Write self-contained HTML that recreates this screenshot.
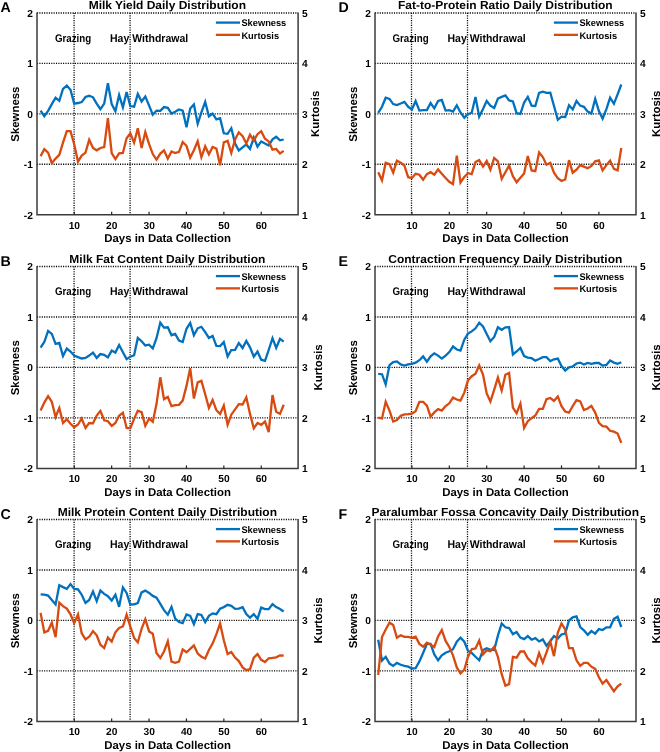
<!DOCTYPE html>
<html><head><meta charset="utf-8"><title>Figure</title>
<style>
html,body{margin:0;padding:0;background:#fff;}
body{width:660px;height:752px;overflow:hidden;position:relative;font-family:"Liberation Sans",sans-serif;}
svg{position:absolute;left:0;top:0;}
text{font-family:"Liberation Sans",sans-serif;font-weight:bold;fill:#000;text-rendering:geometricPrecision;}
svg{will-change:transform;opacity:0.999;}
.t{font-size:11.6px;text-anchor:middle;}
.l{font-size:14.2px;}
.tk{font-size:10.2px;}
.ax{font-size:11.4px;text-anchor:middle;}
.an{font-size:11.2px;}
.lg{font-size:9.5px;}
.g{stroke:#000;stroke-width:1.3;stroke-dasharray:1.1 1.27;fill:none;}
.a{stroke:#3c3c3c;stroke-width:1.5;fill:none;}
.k{stroke:#222;stroke-width:1.2;fill:none;}
.b{stroke:#0071BE;stroke-width:2.3;fill:none;stroke-linejoin:miter;stroke-miterlimit:4;}
.o{stroke:#D74A10;stroke-width:2.3;fill:none;stroke-linejoin:miter;stroke-miterlimit:4;}
</style></head><body>
<svg width="660" height="752" viewBox="0 0 660 752">

<g id="panelA">
<line class="g" x1="37.00" y1="13.00" x2="298.10" y2="13.00"/>
<line class="g" x1="37.00" y1="63.42" x2="298.10" y2="63.42"/>
<line class="g" x1="37.00" y1="113.85" x2="298.10" y2="113.85"/>
<line class="g" x1="37.00" y1="164.27" x2="298.10" y2="164.27"/>
<line class="g" x1="74.10" y1="13.00" x2="74.10" y2="214.70"/>
<line class="g" x1="130.10" y1="13.00" x2="130.10" y2="214.70"/>
<polyline class="b" points="40.6,110.6 44.3,116.2 48.1,110.9 51.8,104.1 55.6,97.7 59.3,100.8 63.0,88.9 66.8,85.6 70.5,89.7 74.2,103.6 78.0,103.0 81.7,102.1 85.5,97.0 89.2,95.8 93.0,97.3 96.7,103.6 100.4,109.1 104.2,103.6 107.9,83.3 111.7,104.1 115.4,111.2 119.1,95.0 122.9,107.3 126.6,92.0 130.3,106.1 134.1,106.7 137.8,93.9 141.6,101.5 145.3,96.5 149.1,105.6 152.8,114.7 156.5,110.6 160.3,110.9 164.0,107.1 167.8,107.9 171.5,113.6 175.2,111.7 179.0,109.4 182.7,110.6 186.5,127.3 190.2,108.6 193.9,104.5 197.7,123.8 201.4,112.4 205.2,101.9 208.9,116.3 212.6,113.6 216.4,119.3 220.1,118.2 223.8,133.3 227.6,133.8 231.3,128.2 235.1,143.6 238.8,150.5 242.6,147.4 246.3,144.4 250.0,148.9 253.8,137.6 257.5,146.7 261.2,141.4 265.0,143.6 268.7,145.5 272.5,139.4 276.2,136.8 280.0,140.3 283.7,139.5"/>
<polyline class="o" points="40.6,156.1 44.3,149.1 48.1,152.6 51.8,163.2 55.6,158.6 59.3,154.8 63.0,142.7 66.8,131.1 70.5,131.1 74.2,144.2 78.0,161.7 81.7,155.6 85.5,152.6 89.2,139.7 93.0,148.0 96.7,150.3 100.4,148.0 104.2,147.0 107.9,118.2 111.7,153.0 115.4,159.1 119.1,153.3 122.9,153.0 126.6,138.2 130.3,133.4 134.1,142.7 137.8,128.3 141.6,148.0 145.3,132.1 149.1,144.2 152.8,154.1 156.5,159.7 160.3,153.6 164.0,150.3 167.8,158.6 171.5,151.5 175.2,153.0 179.0,151.8 182.7,142.0 186.5,145.8 190.2,157.6 193.9,150.3 197.7,141.2 201.4,157.2 205.2,146.4 208.9,154.3 212.6,147.0 216.4,148.6 220.1,165.2 223.8,142.4 227.6,140.9 231.3,153.0 235.1,139.4 238.8,132.3 242.6,136.1 246.3,143.6 250.0,134.8 253.8,140.6 257.5,134.2 261.2,131.2 265.0,138.8 268.7,141.4 272.5,149.7 276.2,148.9 280.0,153.5 283.7,150.9"/>
<path class="a" d="M37.00,12.50 V214.70 H298.10 V12.50"/>
<line class="k" x1="74.25" y1="214.70" x2="74.25" y2="211.70"/>
<text class="tk" text-anchor="middle" x="74.35" y="228.50">10</text>
<line class="k" x1="111.65" y1="214.70" x2="111.65" y2="211.70"/>
<text class="tk" text-anchor="middle" x="111.75" y="228.50">20</text>
<line class="k" x1="149.05" y1="214.70" x2="149.05" y2="211.70"/>
<text class="tk" text-anchor="middle" x="149.15" y="228.50">30</text>
<line class="k" x1="186.45" y1="214.70" x2="186.45" y2="211.70"/>
<text class="tk" text-anchor="middle" x="186.55" y="228.50">40</text>
<line class="k" x1="223.85" y1="214.70" x2="223.85" y2="211.70"/>
<text class="tk" text-anchor="middle" x="223.95" y="228.50">50</text>
<line class="k" x1="261.25" y1="214.70" x2="261.25" y2="211.70"/>
<text class="tk" text-anchor="middle" x="261.35" y="228.50">60</text>
<text class="tk" text-anchor="end" x="32.80" y="16.80">2</text>
<text class="tk" x="302.00" y="16.80">5</text>
<text class="tk" text-anchor="end" x="32.80" y="67.22">1</text>
<text class="tk" x="302.00" y="67.22">4</text>
<text class="tk" text-anchor="end" x="32.80" y="117.65">0</text>
<text class="tk" x="302.00" y="117.65">3</text>
<text class="tk" text-anchor="end" x="32.80" y="168.07">-1</text>
<text class="tk" x="302.00" y="168.07">2</text>
<text class="tk" text-anchor="end" x="32.80" y="218.50">-2</text>
<text class="tk" x="302.00" y="218.50">1</text>
<text class="ax" x="167.55" y="242.10">Days in Data Collection</text>
<text class="t" x="167.35" y="9.00" textLength="157.4" lengthAdjust="spacingAndGlyphs">Milk Yield Daily Distribution</text>
<text class="ax" transform="translate(19.10,114.15) rotate(-90)">Skewness</text>
<text class="ax" transform="translate(319.30,113.85) rotate(-90)">Kurtosis</text>
<text class="l" x="0.60" y="12.20">A</text>
<text class="an" x="54.90" y="41.90" textLength="36.3" lengthAdjust="spacingAndGlyphs">Grazing</text>
<text class="an" x="110.00" y="41.90" textLength="78.2" lengthAdjust="spacingAndGlyphs">Hay Withdrawal</text>
<line class="b" x1="215.90" y1="22.60" x2="240.00" y2="22.60"/>
<line class="o" x1="215.90" y1="34.85" x2="240.00" y2="34.85"/>
<text class="lg" x="241.40" y="26.10" textLength="44.9" lengthAdjust="spacingAndGlyphs">Skewness</text>
<text class="lg" x="241.40" y="38.80" textLength="37.7" lengthAdjust="spacingAndGlyphs">Kurtosis</text>
</g>
<g id="panelB">
<line class="g" x1="37.00" y1="266.50" x2="298.10" y2="266.50"/>
<line class="g" x1="37.00" y1="316.98" x2="298.10" y2="316.98"/>
<line class="g" x1="37.00" y1="367.45" x2="298.10" y2="367.45"/>
<line class="g" x1="37.00" y1="417.92" x2="298.10" y2="417.92"/>
<line class="g" x1="74.10" y1="266.50" x2="74.10" y2="468.40"/>
<line class="g" x1="130.10" y1="266.50" x2="130.10" y2="468.40"/>
<polyline class="b" points="40.6,347.6 44.3,342.0 48.1,330.9 51.8,333.9 55.6,343.9 59.3,343.0 63.0,356.1 66.8,348.5 70.5,351.5 74.2,355.6 78.0,357.1 81.7,358.5 85.5,357.9 89.2,355.6 93.0,352.6 96.7,357.9 100.4,354.1 104.2,354.8 107.9,357.4 111.7,350.6 115.4,352.6 119.1,345.0 122.9,352.2 126.6,359.1 130.3,356.7 134.1,355.2 137.8,337.9 141.6,341.2 145.3,345.5 149.1,344.7 152.8,348.5 156.5,338.2 160.3,322.7 164.0,327.6 167.8,327.3 171.5,335.2 175.2,333.9 179.0,340.5 182.7,342.0 186.5,328.8 190.2,323.0 193.9,335.2 197.7,328.3 201.4,326.8 205.2,332.1 208.9,337.9 212.6,335.9 216.4,345.8 220.1,346.1 223.8,342.0 227.6,356.4 231.3,350.0 235.1,349.8 238.8,343.0 242.6,348.0 246.3,340.9 250.0,347.3 253.8,356.7 257.5,351.5 261.2,359.7 265.0,360.9 268.7,350.0 272.5,338.2 276.2,348.0 280.0,338.9 283.7,341.7"/>
<polyline class="o" points="40.6,410.5 44.3,402.6 48.1,396.1 51.8,401.8 55.6,417.0 59.3,407.9 63.0,423.0 66.8,419.2 70.5,423.8 74.2,427.3 78.0,424.5 81.7,418.5 85.5,427.9 89.2,423.0 93.0,423.3 96.7,415.5 100.4,410.9 104.2,420.3 107.9,421.2 111.7,425.8 115.4,423.0 119.1,415.8 122.9,412.7 126.6,427.9 130.3,428.3 134.1,418.9 137.8,410.6 141.6,412.1 145.3,425.8 149.1,418.5 152.8,421.8 156.5,404.1 160.3,377.3 164.0,399.1 167.8,397.0 171.5,406.1 175.2,405.2 179.0,404.8 182.7,400.6 186.5,385.9 190.2,368.2 193.9,398.5 197.7,382.4 201.4,380.9 205.2,394.2 208.9,407.9 212.6,400.0 216.4,410.2 220.1,413.9 223.8,405.6 227.6,424.8 231.3,414.7 235.1,409.4 238.8,404.1 242.6,404.5 246.3,397.3 250.0,413.9 253.8,428.3 257.5,423.0 261.2,424.8 265.0,421.5 268.7,432.1 272.5,395.0 276.2,411.7 280.0,413.9 283.7,404.8"/>
<path class="a" d="M37.00,266.00 V468.40 H298.10 V266.00"/>
<line class="k" x1="74.25" y1="468.40" x2="74.25" y2="465.40"/>
<text class="tk" text-anchor="middle" x="74.35" y="482.20">10</text>
<line class="k" x1="111.65" y1="468.40" x2="111.65" y2="465.40"/>
<text class="tk" text-anchor="middle" x="111.75" y="482.20">20</text>
<line class="k" x1="149.05" y1="468.40" x2="149.05" y2="465.40"/>
<text class="tk" text-anchor="middle" x="149.15" y="482.20">30</text>
<line class="k" x1="186.45" y1="468.40" x2="186.45" y2="465.40"/>
<text class="tk" text-anchor="middle" x="186.55" y="482.20">40</text>
<line class="k" x1="223.85" y1="468.40" x2="223.85" y2="465.40"/>
<text class="tk" text-anchor="middle" x="223.95" y="482.20">50</text>
<line class="k" x1="261.25" y1="468.40" x2="261.25" y2="465.40"/>
<text class="tk" text-anchor="middle" x="261.35" y="482.20">60</text>
<text class="tk" text-anchor="end" x="32.80" y="270.30">2</text>
<text class="tk" x="302.00" y="270.30">5</text>
<text class="tk" text-anchor="end" x="32.80" y="320.78">1</text>
<text class="tk" x="302.00" y="320.78">4</text>
<text class="tk" text-anchor="end" x="32.80" y="371.25">0</text>
<text class="tk" x="302.00" y="371.25">3</text>
<text class="tk" text-anchor="end" x="32.80" y="421.72">-1</text>
<text class="tk" x="302.00" y="421.72">2</text>
<text class="tk" text-anchor="end" x="32.80" y="472.20">-2</text>
<text class="tk" x="302.00" y="472.20">1</text>
<text class="ax" x="167.55" y="495.80">Days in Data Collection</text>
<text class="t" x="167.35" y="262.50" textLength="196.0" lengthAdjust="spacingAndGlyphs">Milk Fat Content Daily Distribution</text>
<text class="ax" transform="translate(19.10,367.75) rotate(-90)">Skewness</text>
<text class="ax" transform="translate(321.80,367.45) rotate(-90)">Kurtosis</text>
<text class="l" x="0.60" y="265.70">B</text>
<text class="an" x="54.90" y="295.40" textLength="36.3" lengthAdjust="spacingAndGlyphs">Grazing</text>
<text class="an" x="110.00" y="295.40" textLength="78.2" lengthAdjust="spacingAndGlyphs">Hay Withdrawal</text>
<line class="b" x1="215.90" y1="276.10" x2="240.00" y2="276.10"/>
<line class="o" x1="215.90" y1="288.35" x2="240.00" y2="288.35"/>
<text class="lg" x="241.40" y="279.60" textLength="44.9" lengthAdjust="spacingAndGlyphs">Skewness</text>
<text class="lg" x="241.40" y="292.30" textLength="37.7" lengthAdjust="spacingAndGlyphs">Kurtosis</text>
</g>
<g id="panelC">
<line class="g" x1="37.00" y1="519.50" x2="298.10" y2="519.50"/>
<line class="g" x1="37.00" y1="569.98" x2="298.10" y2="569.98"/>
<line class="g" x1="37.00" y1="620.45" x2="298.10" y2="620.45"/>
<line class="g" x1="37.00" y1="670.92" x2="298.10" y2="670.92"/>
<line class="g" x1="74.10" y1="519.50" x2="74.10" y2="721.40"/>
<line class="g" x1="130.10" y1="519.50" x2="130.10" y2="721.40"/>
<polyline class="b" points="40.6,594.4 44.3,594.7 48.1,595.5 51.8,600.0 55.6,604.5 59.3,585.3 63.0,587.1 66.8,588.9 70.5,584.1 74.2,588.9 78.0,589.4 81.7,594.7 85.5,603.0 89.2,600.0 93.0,591.4 96.7,601.1 100.4,590.6 104.2,593.9 107.9,596.2 111.7,600.5 115.4,594.7 119.1,606.8 122.9,587.4 126.6,592.9 130.3,604.5 134.1,604.4 137.8,603.0 141.6,592.4 145.3,590.6 149.1,592.9 152.8,595.9 156.5,597.7 160.3,603.8 164.0,610.2 167.8,614.7 171.5,606.8 175.2,618.6 179.0,622.0 182.7,623.2 186.5,614.4 190.2,615.9 193.9,624.2 197.7,614.1 201.4,614.9 205.2,622.1 208.9,615.9 212.6,613.4 216.4,614.2 220.1,608.6 223.8,607.1 227.6,604.8 231.3,605.8 235.1,608.8 238.8,608.6 242.6,607.1 246.3,614.1 250.0,617.7 253.8,614.1 257.5,618.9 261.2,607.6 265.0,609.1 268.7,609.1 272.5,604.1 276.2,607.1 280.0,609.1 283.7,611.4"/>
<polyline class="o" points="40.6,612.9 44.3,632.3 48.1,630.8 51.8,622.7 55.6,637.1 59.3,602.6 63.0,606.1 66.8,608.6 70.5,614.4 74.2,623.2 78.0,614.4 81.7,633.3 85.5,639.4 89.2,636.8 93.0,631.1 96.7,635.3 100.4,644.7 104.2,648.0 107.9,637.4 111.7,641.7 115.4,632.3 119.1,628.0 122.9,626.5 126.6,614.7 130.3,626.5 134.1,637.9 137.8,642.4 141.6,628.8 145.3,619.2 149.1,631.4 152.8,633.8 156.5,653.0 160.3,658.0 164.0,651.5 167.8,641.4 171.5,661.7 175.2,662.9 179.0,661.7 182.7,649.5 186.5,652.3 190.2,648.9 193.9,645.5 197.7,653.5 201.4,656.7 205.2,658.5 208.9,650.0 212.6,643.6 216.4,634.1 220.1,623.5 223.8,640.2 227.6,654.1 231.3,652.0 235.1,657.6 238.8,661.1 242.6,667.4 246.3,670.2 250.0,669.2 253.8,657.6 257.5,654.1 261.2,659.8 265.0,662.1 268.7,658.3 272.5,657.9 276.2,657.3 280.0,655.3 283.7,655.6"/>
<path class="a" d="M37.00,519.00 V721.40 H298.10 V519.00"/>
<line class="k" x1="74.25" y1="721.40" x2="74.25" y2="718.40"/>
<text class="tk" text-anchor="middle" x="74.35" y="735.20">10</text>
<line class="k" x1="111.65" y1="721.40" x2="111.65" y2="718.40"/>
<text class="tk" text-anchor="middle" x="111.75" y="735.20">20</text>
<line class="k" x1="149.05" y1="721.40" x2="149.05" y2="718.40"/>
<text class="tk" text-anchor="middle" x="149.15" y="735.20">30</text>
<line class="k" x1="186.45" y1="721.40" x2="186.45" y2="718.40"/>
<text class="tk" text-anchor="middle" x="186.55" y="735.20">40</text>
<line class="k" x1="223.85" y1="721.40" x2="223.85" y2="718.40"/>
<text class="tk" text-anchor="middle" x="223.95" y="735.20">50</text>
<line class="k" x1="261.25" y1="721.40" x2="261.25" y2="718.40"/>
<text class="tk" text-anchor="middle" x="261.35" y="735.20">60</text>
<text class="tk" text-anchor="end" x="32.80" y="523.30">2</text>
<text class="tk" x="302.00" y="523.30">5</text>
<text class="tk" text-anchor="end" x="32.80" y="573.77">1</text>
<text class="tk" x="302.00" y="573.77">4</text>
<text class="tk" text-anchor="end" x="32.80" y="624.25">0</text>
<text class="tk" x="302.00" y="624.25">3</text>
<text class="tk" text-anchor="end" x="32.80" y="674.72">-1</text>
<text class="tk" x="302.00" y="674.72">2</text>
<text class="tk" text-anchor="end" x="32.80" y="725.20">-2</text>
<text class="tk" x="302.00" y="725.20">1</text>
<text class="ax" x="167.55" y="748.80">Days in Data Collection</text>
<text class="t" x="167.35" y="515.50" textLength="219.4" lengthAdjust="spacingAndGlyphs">Milk Protein Content Daily Distribution</text>
<text class="ax" transform="translate(19.10,620.75) rotate(-90)">Skewness</text>
<text class="ax" transform="translate(321.80,620.45) rotate(-90)">Kurtosis</text>
<text class="l" x="0.60" y="518.70">C</text>
<text class="an" x="54.90" y="548.40" textLength="36.3" lengthAdjust="spacingAndGlyphs">Grazing</text>
<text class="an" x="110.00" y="548.40" textLength="78.2" lengthAdjust="spacingAndGlyphs">Hay Withdrawal</text>
<line class="b" x1="215.90" y1="529.10" x2="240.00" y2="529.10"/>
<line class="o" x1="215.90" y1="541.35" x2="240.00" y2="541.35"/>
<text class="lg" x="241.40" y="532.60" textLength="44.9" lengthAdjust="spacingAndGlyphs">Skewness</text>
<text class="lg" x="241.40" y="545.30" textLength="37.7" lengthAdjust="spacingAndGlyphs">Kurtosis</text>
</g>
<g id="panelD">
<line class="g" x1="375.00" y1="13.00" x2="636.00" y2="13.00"/>
<line class="g" x1="375.00" y1="63.42" x2="636.00" y2="63.42"/>
<line class="g" x1="375.00" y1="113.85" x2="636.00" y2="113.85"/>
<line class="g" x1="375.00" y1="164.27" x2="636.00" y2="164.27"/>
<line class="g" x1="411.50" y1="13.00" x2="411.50" y2="214.70"/>
<line class="g" x1="467.50" y1="13.00" x2="467.50" y2="214.70"/>
<polyline class="b" points="378.2,112.8 382.0,106.8 385.7,97.7 389.5,98.9 393.2,104.1 396.9,105.0 400.7,103.5 404.4,101.9 408.2,106.8 411.9,109.5 415.6,101.0 419.4,110.6 423.1,110.1 426.9,110.1 430.6,103.0 434.3,108.3 438.1,101.0 441.8,100.0 445.6,110.6 449.3,110.1 453.0,111.6 456.8,105.3 460.5,112.5 464.3,117.7 468.0,114.2 471.7,112.7 475.5,96.9 479.2,116.6 483.0,109.1 486.7,101.0 490.4,105.6 494.2,108.0 497.9,98.5 501.7,96.9 505.4,95.4 509.1,100.4 512.9,101.5 516.6,113.2 520.4,113.9 524.1,102.5 527.8,96.9 531.6,105.6 535.3,106.0 539.1,92.8 542.8,91.6 546.5,92.8 550.3,92.7 554.0,106.0 557.8,119.8 561.5,116.6 565.2,117.1 569.0,105.3 572.7,109.4 576.5,101.0 580.2,105.6 583.9,106.8 587.7,111.6 591.4,113.6 595.2,98.9 598.9,111.0 602.6,118.6 606.4,109.1 610.1,97.7 613.9,103.8 617.6,94.4 621.3,84.5"/>
<polyline class="o" points="378.2,172.2 382.0,180.3 385.7,162.8 389.5,164.1 393.2,172.7 396.9,160.6 400.7,162.8 404.4,165.6 408.2,177.2 411.9,178.0 415.6,173.8 419.4,174.7 423.1,179.8 426.9,174.2 430.6,172.2 434.3,174.7 438.1,169.4 441.8,173.8 445.6,178.0 449.3,181.8 453.0,184.1 456.8,155.6 460.5,182.5 464.3,176.9 468.0,173.2 471.7,174.2 475.5,162.1 479.2,160.1 483.0,166.6 486.7,161.0 490.4,169.7 494.2,158.0 497.9,161.3 501.7,178.8 505.4,172.2 509.1,165.6 512.9,176.2 516.6,182.2 520.4,177.7 524.1,173.5 527.8,156.0 531.6,170.4 535.3,171.2 539.1,152.5 542.8,157.1 546.5,164.7 550.3,162.8 554.0,172.7 557.8,178.3 561.5,181.0 565.2,179.5 569.0,160.1 572.7,172.7 576.5,169.7 580.2,165.1 583.9,166.6 587.7,168.2 591.4,165.9 595.2,161.3 598.9,160.3 602.6,170.4 606.4,165.1 610.1,160.6 613.9,168.9 617.6,170.4 621.3,148.0"/>
<path class="a" d="M375.00,12.50 V214.70 H636.00 V12.50"/>
<line class="k" x1="411.90" y1="214.70" x2="411.90" y2="211.70"/>
<text class="tk" text-anchor="middle" x="412.00" y="228.50">10</text>
<line class="k" x1="449.30" y1="214.70" x2="449.30" y2="211.70"/>
<text class="tk" text-anchor="middle" x="449.40" y="228.50">20</text>
<line class="k" x1="486.70" y1="214.70" x2="486.70" y2="211.70"/>
<text class="tk" text-anchor="middle" x="486.80" y="228.50">30</text>
<line class="k" x1="524.10" y1="214.70" x2="524.10" y2="211.70"/>
<text class="tk" text-anchor="middle" x="524.20" y="228.50">40</text>
<line class="k" x1="561.50" y1="214.70" x2="561.50" y2="211.70"/>
<text class="tk" text-anchor="middle" x="561.60" y="228.50">50</text>
<line class="k" x1="598.90" y1="214.70" x2="598.90" y2="211.70"/>
<text class="tk" text-anchor="middle" x="599.00" y="228.50">60</text>
<text class="tk" text-anchor="end" x="370.80" y="16.80">2</text>
<text class="tk" x="639.90" y="16.80">5</text>
<text class="tk" text-anchor="end" x="370.80" y="67.22">1</text>
<text class="tk" x="639.90" y="67.22">4</text>
<text class="tk" text-anchor="end" x="370.80" y="117.65">0</text>
<text class="tk" x="639.90" y="117.65">3</text>
<text class="tk" text-anchor="end" x="370.80" y="168.07">-1</text>
<text class="tk" x="639.90" y="168.07">2</text>
<text class="tk" text-anchor="end" x="370.80" y="218.50">-2</text>
<text class="tk" x="639.90" y="218.50">1</text>
<text class="ax" x="505.50" y="242.10">Days in Data Collection</text>
<text class="t" x="505.30" y="9.00" textLength="214.7" lengthAdjust="spacingAndGlyphs">Fat-to-Protein Ratio Daily Distribution</text>
<text class="ax" transform="translate(357.10,114.15) rotate(-90)">Skewness</text>
<text class="ax" transform="translate(659.70,113.85) rotate(-90)">Kurtosis</text>
<text class="l" x="338.60" y="12.20">D</text>
<text class="an" x="392.39" y="41.90" textLength="36.3" lengthAdjust="spacingAndGlyphs">Grazing</text>
<text class="an" x="447.49" y="41.90" textLength="78.2" lengthAdjust="spacingAndGlyphs">Hay Withdrawal</text>
<line class="b" x1="553.90" y1="22.60" x2="578.00" y2="22.60"/>
<line class="o" x1="553.90" y1="34.85" x2="578.00" y2="34.85"/>
<text class="lg" x="579.40" y="26.10" textLength="44.9" lengthAdjust="spacingAndGlyphs">Skewness</text>
<text class="lg" x="579.40" y="38.80" textLength="37.7" lengthAdjust="spacingAndGlyphs">Kurtosis</text>
</g>
<g id="panelE">
<line class="g" x1="375.00" y1="266.50" x2="636.00" y2="266.50"/>
<line class="g" x1="375.00" y1="316.98" x2="636.00" y2="316.98"/>
<line class="g" x1="375.00" y1="367.45" x2="636.00" y2="367.45"/>
<line class="g" x1="375.00" y1="417.92" x2="636.00" y2="417.92"/>
<line class="g" x1="411.50" y1="266.50" x2="411.50" y2="468.40"/>
<line class="g" x1="467.50" y1="266.50" x2="467.50" y2="468.40"/>
<polyline class="b" points="378.2,373.8 382.0,374.2 385.7,384.4 389.5,365.2 393.2,362.1 396.9,361.4 400.7,364.4 404.4,365.5 408.2,364.4 411.9,363.9 415.6,362.7 419.4,360.2 423.1,356.4 426.9,361.7 430.6,356.4 434.3,353.3 438.1,355.6 441.8,358.6 445.6,355.6 449.3,352.1 453.0,346.5 456.8,349.5 460.5,350.6 464.3,339.7 468.0,333.6 471.7,331.4 475.5,328.3 479.2,322.7 483.0,326.4 486.7,333.9 490.4,341.2 494.2,337.0 497.9,327.3 501.7,329.8 505.4,327.3 509.1,327.1 512.9,354.5 516.6,351.5 520.4,348.0 524.1,356.1 527.8,357.6 531.6,358.2 535.3,360.6 539.1,359.0 542.8,357.2 546.5,357.2 550.3,361.1 554.0,359.3 557.8,358.6 561.5,366.1 565.2,370.6 569.0,367.3 572.7,366.5 576.5,363.5 580.2,362.6 583.9,364.5 587.7,363.0 591.4,363.8 595.2,363.0 598.9,363.0 602.6,365.6 606.4,365.0 610.1,360.5 613.9,362.6 617.6,363.8 621.3,362.3"/>
<polyline class="o" points="378.2,417.7 382.0,418.5 385.7,401.8 389.5,410.6 393.2,421.5 396.9,420.0 400.7,415.8 404.4,414.4 408.2,414.2 411.9,413.6 415.6,411.2 419.4,401.8 423.1,401.8 426.9,405.6 430.6,416.7 434.3,412.4 438.1,409.1 441.8,410.6 445.6,406.1 449.3,403.3 453.0,397.6 456.8,399.5 460.5,400.6 464.3,392.7 468.0,380.3 471.7,376.2 475.5,373.8 479.2,365.5 483.0,374.5 486.7,393.5 490.4,401.5 494.2,389.7 497.9,377.6 501.7,390.5 505.4,374.8 509.1,373.0 512.9,407.6 516.6,413.2 520.4,403.6 524.1,427.9 527.8,421.2 531.6,418.2 535.3,415.5 539.1,408.9 542.8,408.9 546.5,399.2 550.3,398.0 554.0,401.0 557.8,396.4 561.5,406.2 565.2,411.5 569.0,412.7 572.7,406.2 576.5,400.2 580.2,401.4 583.9,410.0 587.7,408.5 591.4,405.9 595.2,412.6 598.9,422.9 602.6,426.2 606.4,426.7 610.1,430.8 613.9,431.7 617.6,433.5 621.3,442.9"/>
<path class="a" d="M375.00,266.00 V468.40 H636.00 V266.00"/>
<line class="k" x1="411.90" y1="468.40" x2="411.90" y2="465.40"/>
<text class="tk" text-anchor="middle" x="412.00" y="482.20">10</text>
<line class="k" x1="449.30" y1="468.40" x2="449.30" y2="465.40"/>
<text class="tk" text-anchor="middle" x="449.40" y="482.20">20</text>
<line class="k" x1="486.70" y1="468.40" x2="486.70" y2="465.40"/>
<text class="tk" text-anchor="middle" x="486.80" y="482.20">30</text>
<line class="k" x1="524.10" y1="468.40" x2="524.10" y2="465.40"/>
<text class="tk" text-anchor="middle" x="524.20" y="482.20">40</text>
<line class="k" x1="561.50" y1="468.40" x2="561.50" y2="465.40"/>
<text class="tk" text-anchor="middle" x="561.60" y="482.20">50</text>
<line class="k" x1="598.90" y1="468.40" x2="598.90" y2="465.40"/>
<text class="tk" text-anchor="middle" x="599.00" y="482.20">60</text>
<text class="tk" text-anchor="end" x="370.80" y="270.30">2</text>
<text class="tk" x="639.90" y="270.30">5</text>
<text class="tk" text-anchor="end" x="370.80" y="320.78">1</text>
<text class="tk" x="639.90" y="320.78">4</text>
<text class="tk" text-anchor="end" x="370.80" y="371.25">0</text>
<text class="tk" x="639.90" y="371.25">3</text>
<text class="tk" text-anchor="end" x="370.80" y="421.72">-1</text>
<text class="tk" x="639.90" y="421.72">2</text>
<text class="tk" text-anchor="end" x="370.80" y="472.20">-2</text>
<text class="tk" x="639.90" y="472.20">1</text>
<text class="ax" x="505.50" y="495.80">Days in Data Collection</text>
<text class="t" x="505.30" y="262.50" textLength="234.0" lengthAdjust="spacingAndGlyphs">Contraction Frequency Daily Distribution</text>
<text class="ax" transform="translate(357.10,367.75) rotate(-90)">Skewness</text>
<text class="ax" transform="translate(659.70,367.45) rotate(-90)">Kurtosis</text>
<text class="l" x="338.60" y="265.70">E</text>
<text class="an" x="392.39" y="295.40" textLength="36.3" lengthAdjust="spacingAndGlyphs">Grazing</text>
<text class="an" x="447.49" y="295.40" textLength="78.2" lengthAdjust="spacingAndGlyphs">Hay Withdrawal</text>
<line class="b" x1="553.90" y1="276.10" x2="578.00" y2="276.10"/>
<line class="o" x1="553.90" y1="288.35" x2="578.00" y2="288.35"/>
<text class="lg" x="579.40" y="279.60" textLength="44.9" lengthAdjust="spacingAndGlyphs">Skewness</text>
<text class="lg" x="579.40" y="292.30" textLength="37.7" lengthAdjust="spacingAndGlyphs">Kurtosis</text>
</g>
<g id="panelF">
<line class="g" x1="375.00" y1="519.50" x2="636.00" y2="519.50"/>
<line class="g" x1="375.00" y1="569.98" x2="636.00" y2="569.98"/>
<line class="g" x1="375.00" y1="620.45" x2="636.00" y2="620.45"/>
<line class="g" x1="375.00" y1="670.92" x2="636.00" y2="670.92"/>
<line class="g" x1="411.50" y1="519.50" x2="411.50" y2="721.40"/>
<line class="g" x1="467.50" y1="519.50" x2="467.50" y2="721.40"/>
<polyline class="b" points="378.2,639.7 382.0,660.6 385.7,656.8 389.5,663.6 393.2,665.9 396.9,662.9 400.7,664.8 404.4,665.9 408.2,666.7 411.9,668.5 415.6,668.2 419.4,661.4 423.1,653.0 426.9,643.9 430.6,643.9 434.3,654.5 438.1,660.3 441.8,655.3 445.6,652.7 449.3,651.2 453.0,649.2 456.8,641.7 460.5,637.6 464.3,641.7 468.0,650.8 471.7,653.0 475.5,656.8 479.2,660.3 483.0,650.0 486.7,648.2 490.4,649.7 494.2,650.0 497.9,635.6 501.7,623.5 505.4,627.3 509.1,628.0 512.9,634.1 516.6,632.1 520.4,637.6 524.1,639.1 527.8,636.1 531.6,639.7 535.3,638.2 539.1,641.4 542.8,639.4 546.5,645.8 550.3,641.2 554.0,636.1 557.8,638.5 561.5,634.5 565.2,633.6 569.0,620.5 572.7,617.4 576.5,616.4 580.2,627.0 583.9,630.3 587.7,634.8 591.4,631.1 595.2,633.6 598.9,629.1 602.6,630.0 606.4,627.3 610.1,627.3 613.9,618.9 617.6,616.7 621.3,627.0"/>
<polyline class="o" points="378.2,675.0 382.0,637.1 385.7,629.5 389.5,622.7 393.2,625.0 396.9,637.6 400.7,635.2 404.4,636.8 408.2,636.8 411.9,637.9 415.6,636.7 419.4,643.9 423.1,646.7 426.9,642.7 430.6,644.7 434.3,647.0 438.1,636.4 441.8,630.0 445.6,640.9 449.3,647.0 453.0,655.3 456.8,667.4 460.5,673.5 464.3,669.7 468.0,656.7 471.7,649.2 475.5,648.5 479.2,640.6 483.0,654.5 486.7,650.3 490.4,651.2 494.2,646.7 497.9,656.8 501.7,674.2 505.4,685.6 509.1,684.1 512.9,656.8 516.6,657.6 520.4,651.5 524.1,651.5 527.8,658.3 531.6,662.4 535.3,665.5 539.1,653.0 542.8,662.4 546.5,652.3 550.3,641.7 554.0,656.1 557.8,632.6 561.5,623.5 565.2,629.5 569.0,648.2 572.7,648.2 576.5,660.3 580.2,665.9 583.9,662.9 587.7,662.9 591.4,666.7 595.2,668.9 598.9,677.3 602.6,683.6 606.4,680.0 610.1,685.6 613.9,691.2 617.6,686.4 621.3,683.6"/>
<path class="a" d="M375.00,519.00 V721.40 H636.00 V519.00"/>
<line class="k" x1="411.90" y1="721.40" x2="411.90" y2="718.40"/>
<text class="tk" text-anchor="middle" x="412.00" y="735.20">10</text>
<line class="k" x1="449.30" y1="721.40" x2="449.30" y2="718.40"/>
<text class="tk" text-anchor="middle" x="449.40" y="735.20">20</text>
<line class="k" x1="486.70" y1="721.40" x2="486.70" y2="718.40"/>
<text class="tk" text-anchor="middle" x="486.80" y="735.20">30</text>
<line class="k" x1="524.10" y1="721.40" x2="524.10" y2="718.40"/>
<text class="tk" text-anchor="middle" x="524.20" y="735.20">40</text>
<line class="k" x1="561.50" y1="721.40" x2="561.50" y2="718.40"/>
<text class="tk" text-anchor="middle" x="561.60" y="735.20">50</text>
<line class="k" x1="598.90" y1="721.40" x2="598.90" y2="718.40"/>
<text class="tk" text-anchor="middle" x="599.00" y="735.20">60</text>
<text class="tk" text-anchor="end" x="370.80" y="523.30">2</text>
<text class="tk" x="639.90" y="523.30">5</text>
<text class="tk" text-anchor="end" x="370.80" y="573.77">1</text>
<text class="tk" x="639.90" y="573.77">4</text>
<text class="tk" text-anchor="end" x="370.80" y="624.25">0</text>
<text class="tk" x="639.90" y="624.25">3</text>
<text class="tk" text-anchor="end" x="370.80" y="674.72">-1</text>
<text class="tk" x="639.90" y="674.72">2</text>
<text class="tk" text-anchor="end" x="370.80" y="725.20">-2</text>
<text class="tk" x="639.90" y="725.20">1</text>
<text class="ax" x="505.50" y="748.80">Days in Data Collection</text>
<text class="t" x="505.30" y="515.50" textLength="267.4" lengthAdjust="spacingAndGlyphs">Paralumbar Fossa Concavity Daily Distribution</text>
<text class="ax" transform="translate(357.10,620.75) rotate(-90)">Skewness</text>
<text class="ax" transform="translate(659.70,620.45) rotate(-90)">Kurtosis</text>
<text class="l" x="338.60" y="518.70">F</text>
<text class="an" x="392.39" y="548.40" textLength="36.3" lengthAdjust="spacingAndGlyphs">Grazing</text>
<text class="an" x="447.49" y="548.40" textLength="78.2" lengthAdjust="spacingAndGlyphs">Hay Withdrawal</text>
<line class="b" x1="553.90" y1="529.10" x2="578.00" y2="529.10"/>
<line class="o" x1="553.90" y1="541.35" x2="578.00" y2="541.35"/>
<text class="lg" x="579.40" y="532.60" textLength="44.9" lengthAdjust="spacingAndGlyphs">Skewness</text>
<text class="lg" x="579.40" y="545.30" textLength="37.7" lengthAdjust="spacingAndGlyphs">Kurtosis</text>
</g>
</svg></body></html>
